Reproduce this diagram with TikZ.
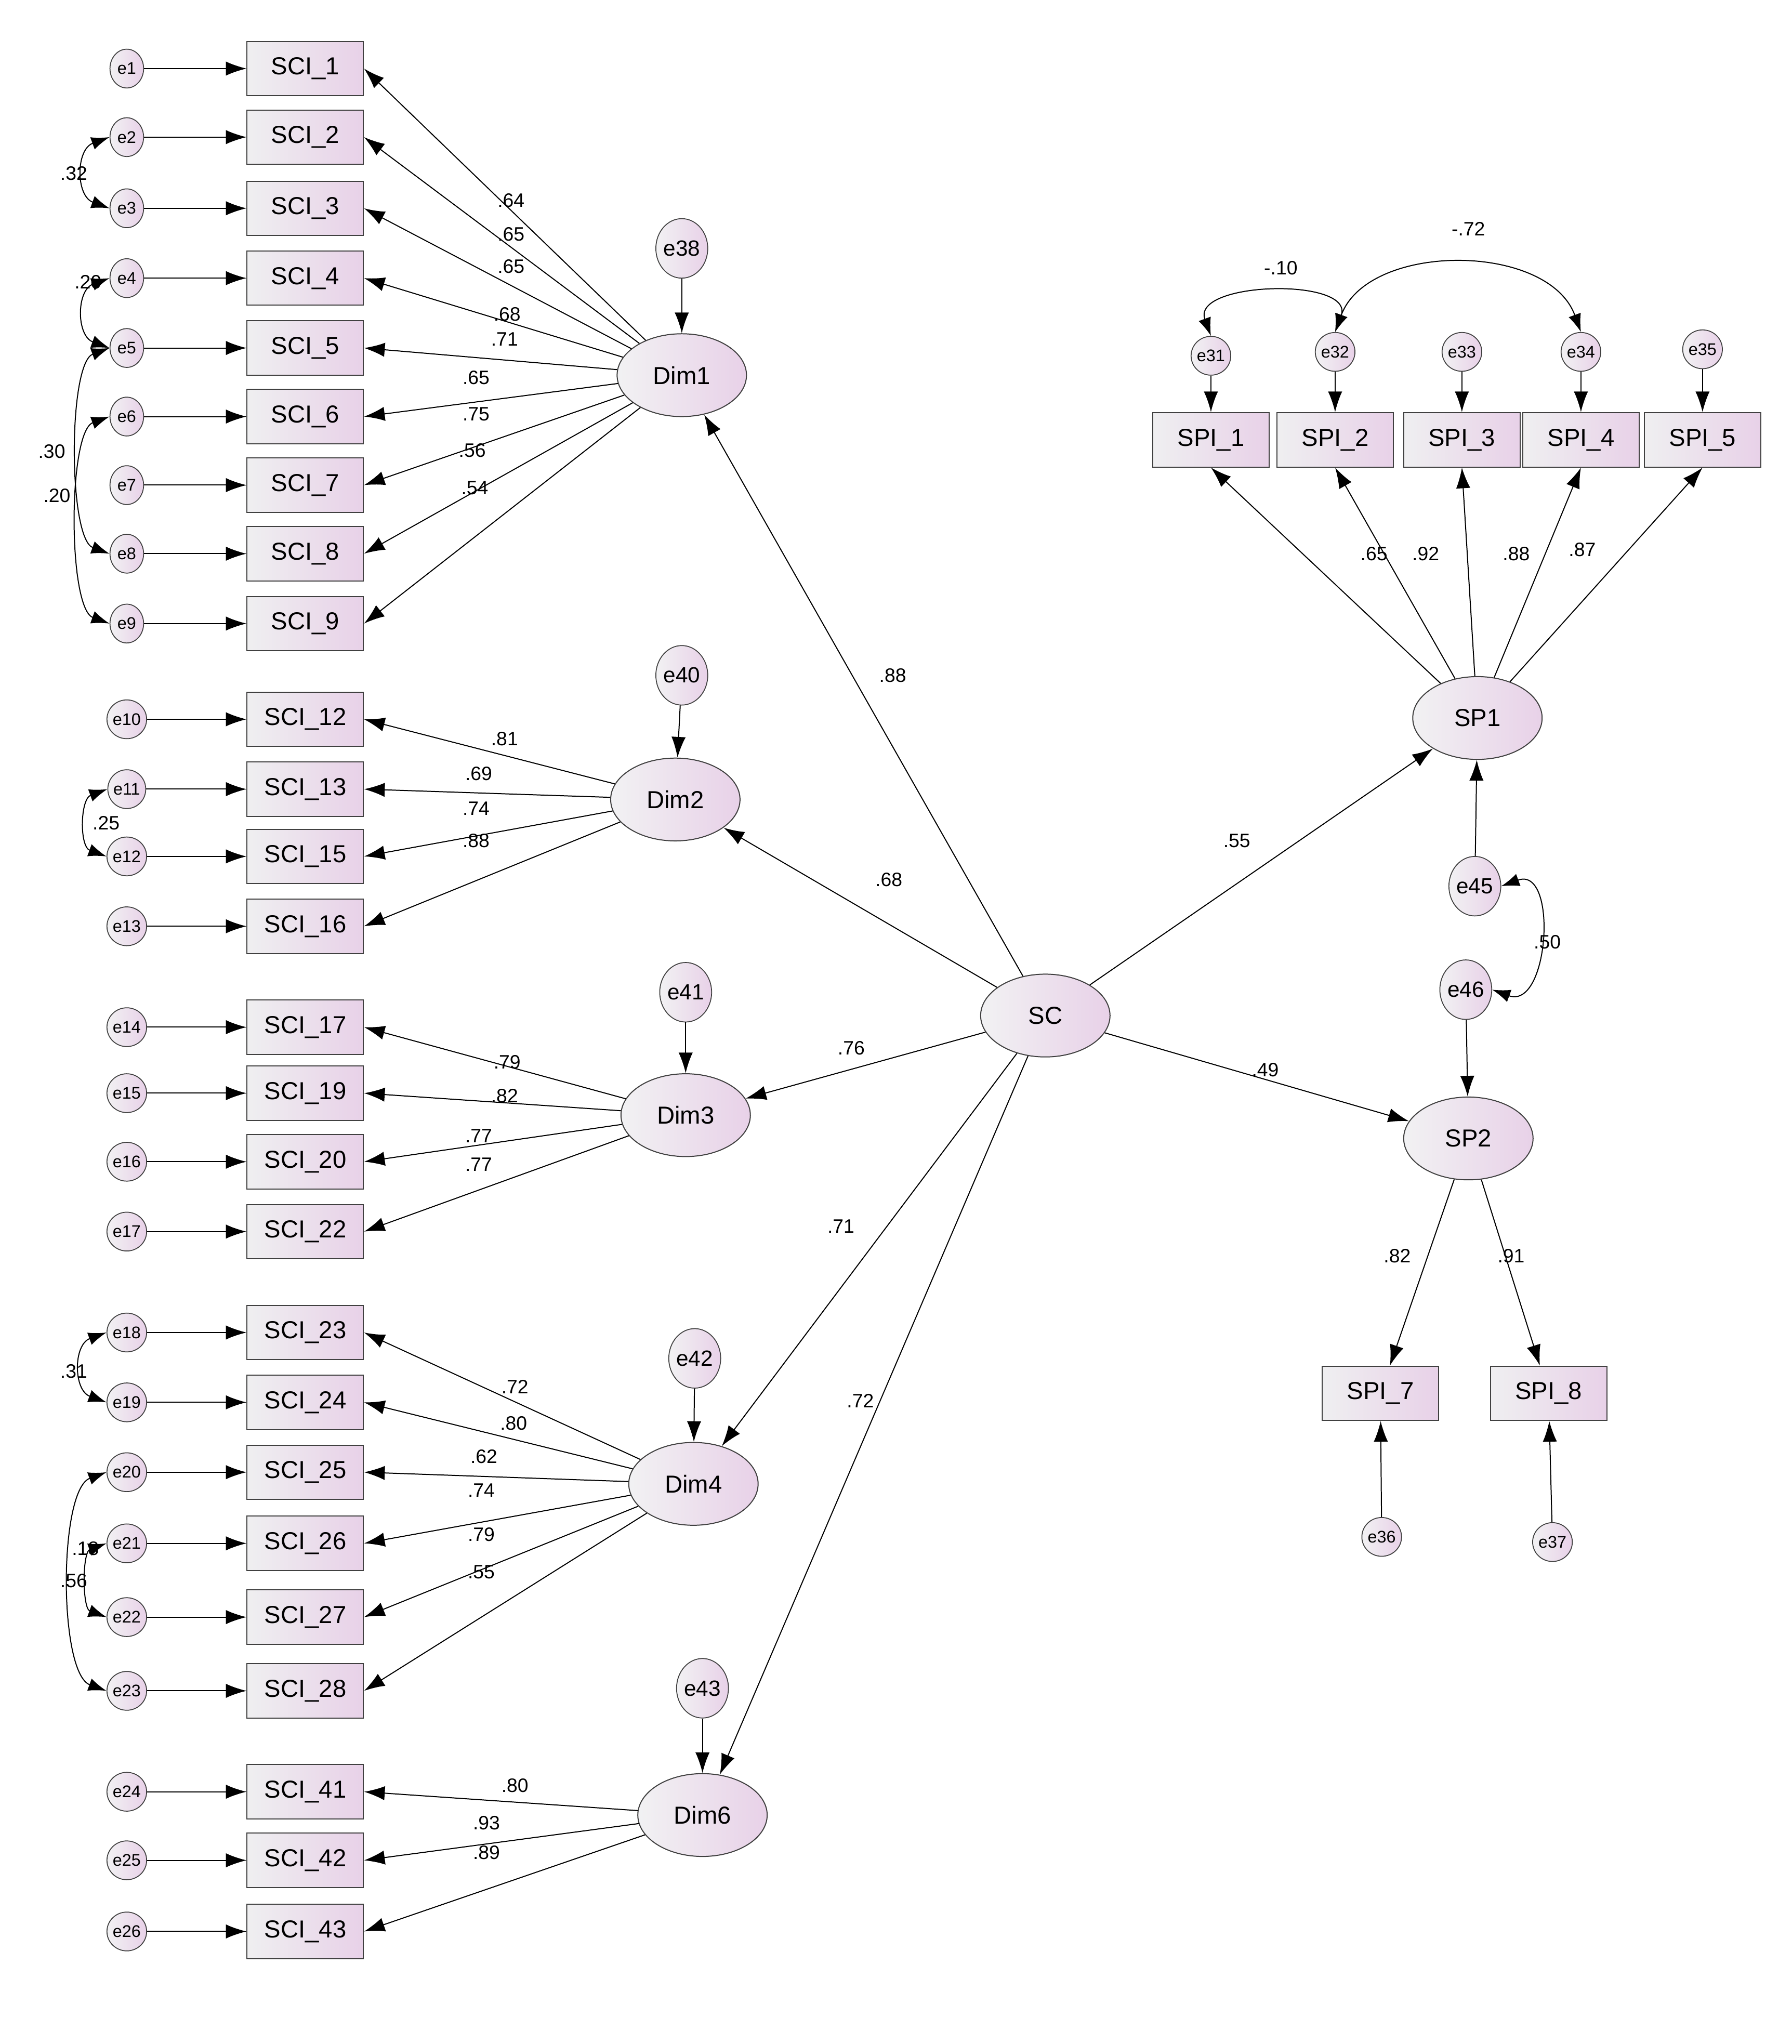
\documentclass[tikz,border=0pt]{standalone}
\usepackage{fontspec}
\setmainfont{Liberation Sans}
\usetikzlibrary{arrows.meta,shapes.geometric}
\begin{document}
\begin{tikzpicture}[x=1pt,y=-1pt,
 obs/.style={draw=black!75,line width=0.8pt,left color=blue!5!gray!12,right color=violet!18,minimum width=90pt,minimum height=42pt,inner sep=0pt,font=\fontsize{19}{19}\selectfont},
 lat/.style={ellipse,draw=black!75,line width=0.8pt,left color=blue!5!gray!10,right color=violet!18,minimum width=100pt,minimum height=64pt,inner sep=0pt,font=\fontsize{19}{19}\selectfont},
 err/.style={ellipse,draw=black!75,line width=0.7pt,left color=blue!5!gray!10,right color=violet!18,minimum width=26pt,minimum height=30pt,inner sep=0pt,font=\fontsize{13}{13}\selectfont},
 berr/.style={ellipse,draw=black!75,line width=0.7pt,left color=blue!5!gray!10,right color=violet!18,minimum width=38pt,minimum height=46pt,inner sep=0pt,font=\fontsize{17}{17}\selectfont},
 arr/.style={-{Latex[length=16pt,width=11pt]},line width=0.8pt},
 cov/.style={{Latex[length=14pt,width=10pt]}-{Latex[length=14pt,width=10pt]},line width=0.8pt},
 lab/.style={font=\fontsize{15}{15}\selectfont,inner sep=1pt}]
\useasboundingbox (0,0) rectangle (1385,1580);
% latent
\node[lat] (Dim1) at (527,290) {Dim1};
\node[lat] (Dim2) at (522,618) {Dim2};
\node[lat] (Dim3) at (530,862) {Dim3};
\node[lat] (Dim4) at (536,1147) {Dim4};
\node[lat] (Dim6) at (543,1403) {Dim6};
\node[lat] (SC) at (808,785) {SC};
\node[lat] (SP1) at (1142,555) {SP1};
\node[lat] (SP2) at (1135,880) {SP2};
\node[berr] (e38) at (527,192) {e38};
\node[berr] (e40) at (527,522) {e40};
\node[berr] (e41) at (530,767) {e41};
\node[berr] (e42) at (537,1050) {e42};
\node[berr] (e43) at (543,1305) {e43};
\node[berr] (e45) at (1140,685) {e45};
\node[berr] (e46) at (1133,765) {e46};
\foreach \a/\b in {e38/Dim1,e40/Dim2,e41/Dim3,e42/Dim4,e43/Dim6,e46/SP2,e45/SP1}
  \draw[arr] (\a) -- (\b);
% SCI indicators
\foreach \n/\y/\e/\d in {1/53/1/Dim1,2/106/2/Dim1,3/161/3/Dim1,4/215/4/Dim1,5/269/5/Dim1,6/322/6/Dim1,7/375/7/Dim1,8/428/8/Dim1,9/482/9/Dim1,
 12/556/10/Dim2,13/610/11/Dim2,15/662/12/Dim2,16/716/13/Dim2,
 17/794/14/Dim3,19/845/15/Dim3,20/898/16/Dim3,22/952/17/Dim3,
 23/1030/18/Dim4,24/1084/19/Dim4,25/1138/20/Dim4,26/1193/21/Dim4,27/1250/22/Dim4,28/1307/23/Dim4,
 41/1385/24/Dim6,42/1438/25/Dim6,43/1493/26/Dim6}{
 \node[obs] (sci\n) at (236,\y) {SCI\_\n};
 \node[err] (e\e) at (98,\y) {e\e};
 \draw[arr] (e\e) -- (sci\n);
 \draw[arr] (\d) -- (sci\n.east);
}
% SPI
\foreach \n/\x/\e/\ey in {1/936/31/275,2/1032/32/272,3/1130/33/272,4/1222/34/272,5/1316/35/270}{
 \node[obs] (spi\n) at (\x,340) {SPI\_\n};
 \node[err] (e\e) at (\x,\ey) {e\e};
 \draw[arr] (e\e) -- (spi\n);
 \draw[arr] (SP1) -- (spi\n.south);
}
\node[obs] (spi7) at (1067,1077) {SPI\_7};
\node[obs] (spi8) at (1197,1077) {SPI\_8};
\node[err] (e36) at (1068,1188) {e36};
\node[err] (e37) at (1200,1192) {e37};
\draw[arr] (e36) -- (spi7);
\draw[arr] (e37) -- (spi8);
\draw[arr] (SP2) -- (spi7);
\draw[arr] (SP2) -- (spi8);
% structural
\foreach \t in {Dim1,Dim2,Dim3,Dim4,Dim6,SP1,SP2} \draw[arr] (SC) -- (\t);
% covariances
\draw[cov] (e2.west) to[out=200,in=160,looseness=1.3] (e3.west);
\draw[cov] (e4.west) to[out=200,in=160,looseness=1.3] (e5.west);
\draw[cov] (e5.west) to[out=200,in=160,looseness=0.55] (e8.west);
\draw[cov] (e6.west) to[out=200,in=160,looseness=0.55] (e9.west);
\draw[cov] (e11.west) to[out=200,in=160,looseness=1.1] (e12.west);
\draw[cov] (e18.west) to[out=200,in=160,looseness=1.3] (e19.west);
\draw[cov] (e20.west) to[out=200,in=160,looseness=0.6] (e23.west);
\draw[cov] (e21.west) to[out=200,in=160,looseness=0.9] (e22.west);
\draw[cov] (e31.north) to[out=110,in=70,looseness=1.2] (e32.north);
\draw[cov] (e32.north) to[out=70,in=110,looseness=1.0] (e34.north);
\draw[cov] (e45.east) to[out=20,in=-20,looseness=1.5] (e46.east);
% labels
\foreach \t/\x/\y in {.64/395/155,.65/395/181,.65/395/206,.68/392/243,.71/390/262,.65/368/292,.75/368/320,.56/365/348,.54/367/377,
 .81/390/571,.69/370/598,.74/368/625,.88/368/650,
 .88/690/522,.68/687/680,.76/658/810,.71/650/948,.72/665/1083,.55/956/650,.49/978/827,
 .79/392/821,.82/390/847,.77/370/878,.77/370/900,
 .72/398/1072,.80/397/1100,.62/374/1126,.74/372/1152,.79/372/1186,.55/372/1215,
 .80/398/1380,.93/376/1409,.89/376/1432,
 .65/1062/428,.92/1102/428,.88/1172/428,.87/1223/425,.82/1080/971,.91/1168/971,
 .32/57/134,.20/68/218,.30/40/349,.20/44/383,.25/82/636,.31/57/1060,.18/66/1197,.56/57/1222,-.10/990/207,-.72/1135/177,.50/1196/728}
 \node[lab] at (\x,\y) {\t};
\end{tikzpicture}
\end{document}
